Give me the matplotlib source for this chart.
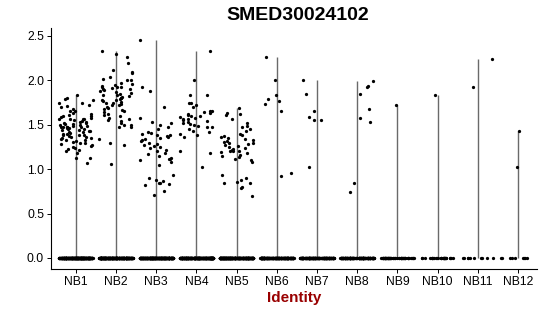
import matplotlib
matplotlib.use("Agg")
import matplotlib.pyplot as plt
import numpy as np

plt.rcParams["font.family"] = "Liberation Sans"

# Datos
groups = ["NB1", "NB2", "NB3", "NB4", "NB5", "NB6", "NB7", "NB8", "NB9", "NB10", "NB11", "NB12"]

nb1 = [1.83, 1.80, 1.79, 1.78, 1.75, 1.74, 1.72, 1.71, 1.70, 1.68, 1.66, 1.65, 1.63, 1.62, 1.60, 1.60,
       1.59, 1.58, 1.57, 1.56, 1.56, 1.55, 1.54, 1.53, 1.52, 1.52, 1.51, 1.50, 1.50, 1.49, 1.49, 1.48,
       1.48, 1.47, 1.47, 1.46, 1.46, 1.45, 1.45, 1.44, 1.43, 1.42, 1.42, 1.41, 1.40, 1.40, 1.39, 1.38,
       1.37, 1.36, 1.36, 1.35, 1.35, 1.34, 1.33, 1.32, 1.31, 1.30, 1.30, 1.28, 1.27, 1.26, 1.25, 1.24,
       1.23, 1.22, 1.20, 1.18, 1.13, 1.13, 1.07, 1.51, 1.43, 1.38, 1.33, 1.57, 1.61, 1.47, 1.44, 1.53]
nb2 = [2.33, 2.30, 2.26, 2.20, 2.12, 2.10, 2.08, 2.04, 2.02, 2.01, 2.00, 1.97, 1.96, 1.95, 1.93, 1.92,
       1.91, 1.90, 1.90, 1.89, 1.88, 1.87, 1.85, 1.84, 1.82, 1.81, 1.80, 1.79, 1.78, 1.78, 1.77, 1.76,
       1.75, 1.74, 1.73, 1.72, 1.70, 1.69, 1.68, 1.67, 1.66, 1.64, 1.62, 1.61, 1.60, 1.58, 1.56, 1.55,
       1.54, 1.52, 1.50, 1.50, 1.48, 1.48, 1.34, 1.30, 1.27, 1.06, 1.92, 1.84, 1.80, 1.72, 1.86, 1.94]
nb3 = [2.45, 1.93, 1.88, 1.70, 1.58, 1.53, 1.50, 1.48, 1.45, 1.42, 1.40, 1.38, 1.37, 1.36, 1.35, 1.34,
       1.33, 1.32, 1.30, 1.28, 1.27, 1.25, 1.24, 1.22, 1.20, 1.18, 1.17, 1.15, 1.12, 1.10, 1.08, 1.05,
       0.94, 0.90, 0.88, 0.87, 0.85, 0.85, 0.83, 0.82, 0.75, 0.71, 1.39, 1.13, 1.26, 1.41, 1.11, 1.52]
nb4 = [2.33, 2.01, 1.84, 1.83, 1.75, 1.74, 1.72, 1.70, 1.66, 1.65, 1.64, 1.63, 1.62, 1.61, 1.60, 1.60,
       1.59, 1.57, 1.56, 1.55, 1.53, 1.52, 1.51, 1.50, 1.49, 1.48, 1.45, 1.43, 1.42, 1.40, 1.38, 1.36,
       1.20, 1.18, 1.02, 1.58, 1.54, 1.47]
nb5 = [1.69, 1.63, 1.62, 1.61, 1.56, 1.52, 1.49, 1.47, 1.45, 1.43, 1.40, 1.38, 1.37, 1.36, 1.35, 1.34,
       1.33, 1.32, 1.30, 1.28, 1.27, 1.26, 1.25, 1.24, 1.22, 1.21, 1.20, 1.20, 1.18, 1.16, 1.15, 1.14,
       1.12, 1.10, 1.08, 0.93, 0.90, 0.88, 0.86, 0.85, 0.84, 0.80, 0.79, 0.70, 1.31, 1.23, 1.19, 1.29]
nb6 = [2.26, 2.01, 1.83, 1.73, 1.79, 1.77, 1.65, 0.96, 0.92]
nb7 = [2.00, 1.85, 1.66, 1.59, 1.55, 1.55, 1.03]
nb8 = [1.99, 1.94, 1.93, 1.85, 1.68, 1.53, 1.58, 0.85, 0.74]
nb9 = [1.72]
nb10 = [1.84]
nb11 = [2.24, 1.93]
nb12 = [1.43, 1.02]
expressed = [nb1, nb2, nb3, nb4, nb5, nb6, nb7, nb8, nb9, nb10, nb11, nb12]

# celulas con expresion 0 en cada grupo
n_zeros = [300, 300, 300, 300, 300, 220, 180, 160, 60, 30, 10, 9]

fig = plt.figure(figsize=(5.5, 3.16), dpi=100)
ax = fig.add_axes([0.0927, 0.1487, 0.8836, 0.7627])

rng = np.random.default_rng(3)
for i, (vals, nz) in enumerate(zip(expressed, n_zeros)):
    pos = i + 1
    allv = np.concatenate([np.zeros(nz), np.array(vals)])
    # violin muy estrecho: casi una linea
    ax.vlines(pos, 0, allv.max(), color="#6a6a6a", linewidth=1.0, zorder=1)
    jit = rng.uniform(-0.42, 0.42, size=len(allv))
    ax.scatter(pos + jit, allv, s=5.5, color="black", linewidths=0, zorder=2)

ax.set_xlim(0.38, 12.47)
ax.set_ylim(-0.124, 2.59)
ax.set_xticks(range(1, len(groups) + 1))
ax.set_xticklabels(groups)
ax.set_yticks([0.0, 0.5, 1.0, 1.5, 2.0, 2.5])
ax.set_yticklabels(["0.0", "0.5", "1.0", "1.5", "2.0", "2.5"])
ax.tick_params(labelsize=8.7, colors="black", length=3, width=0.7, pad=2)
for s in ["top", "right"]:
    ax.spines[s].set_visible(False)
for s in ["left", "bottom"]:
    ax.spines[s].set_linewidth(0.8)

ax.set_xlabel("Identity", fontsize=11, fontweight="bold", color="#990000", labelpad=2)
fig.text(0.541, 0.950, "SMED30024102", ha="center", va="center", fontsize=14, fontweight="bold")

plt.savefig("out.png", dpi=100)
